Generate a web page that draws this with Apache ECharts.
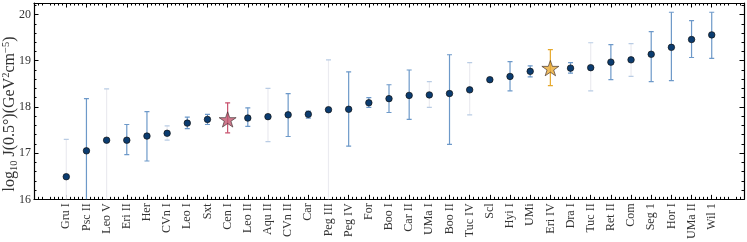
<!DOCTYPE html>
<html><head><meta charset="utf-8">
<script src="https://cdn.jsdelivr.net/npm/echarts@6/dist/echarts.min.js"></script>
<style>html,body{margin:0;padding:0;background:#fff}#c{width:747px;height:242px}</style>
</head><body><div id="c"></div>
<script>
const categories = ['Gru I','Psc II','Leo V','Eri II','Her','CVn I','Leo I','Sxt','Cen I','Leo II','Aqu II','CVn II','Car','Peg III','Peg IV','For','Boo I','Car II','UMa I','Boo II','Tuc IV','Scl','Hyi I','UMi','Eri IV','Dra I','Tuc II','Ret II','Com','Seg 1','Hor I','UMa II','Wil 1'];
const jValues = [16.49,17.05,17.28,17.28,17.37,17.43,17.65,17.73,17.73,17.76,17.79,17.83,17.84,17.94,17.95,18.09,18.18,18.25,18.26,18.29,18.37,18.59,18.66,18.77,18.84,18.84,18.85,18.97,19.02,19.14,19.29,19.46,19.56];
const jUpper = [17.30,18.18,18.39,17.62,17.90,17.59,17.78,17.84,18.09,17.98,18.40,18.29,17.91,19.02,18.76,18.20,18.48,18.80,18.55,19.13,18.96,18.62,18.98,18.89,19.24,18.96,19.39,19.35,19.37,19.63,20.05,19.87,20.05];
const jLower = [15.0,15.0,15.0,16.97,16.83,17.28,17.53,17.62,17.44,17.58,17.25,17.36,17.76,15.0,17.15,17.99,17.88,17.73,17.99,17.19,17.83,18.56,18.35,18.65,18.46,18.73,18.35,18.59,18.66,18.55,18.57,19.07,19.05];
const faint = [1,0,1,0,0,1,0,0,0,0,1,0,0,1,0,0,0,0,1,0,1,0,0,0,0,0,1,0,1,0,0,0,0];
const highlight = {8: {fill:'#c25870', err:'#c8506c'}, 24: {fill:'#e9aa36', err:'#e6a92c'}};
const yTicks = [16,17,18,19,20];

const FONT = 'Liberation Serif';
const majorX = categories.map((c,i)=>i);
const minorX = [];
for (let k=-7;k<=167;k++){ if (k%5!==0) minorX.push(+(k*0.2).toFixed(1)); }
const minorY = [];
for (let k=80;k<=101;k++){ if (k%5!==0) minorY.push(+(k*0.2).toFixed(1)); }

const XMIN=-1.6, XMAX=33.6, YMIN=16, YMAX=20.25;

const errData = categories.map((c,i)=>[i, jLower[i], jUpper[i], faint[i], i]);
const dotData = [], starData = [];
categories.forEach((c,i)=>{
  if (highlight[i]) starData.push({value:[i,jValues[i]], itemStyle:{color:highlight[i].fill, borderColor:'#3a2a2a', borderWidth:0.8}});
  else dotData.push([i,jValues[i]]);
});

function xAx(pos, vals, len, showLine, labels){
  return {type:'value', min:XMIN, max:XMAX, position:pos, gridIndex:0,
    axisLine:{show:showLine, onZero:false, lineStyle:{color:'#000', width:1.2}},
    splitLine:{show:false},
    axisTick:{show:true, inside:true, length:len, customValues:vals, lineStyle:{color:'#000', width:1}},
    axisLabel: labels ? {show:true, customValues:majorX, formatter:v=>categories[Math.round(v)]||'', rotate:90, fontFamily:FONT, fontSize:12, color:'#333', margin:4} : {show:false}
  };
}
function yAx(pos, vals, len, showLine, labels){
  return {type:'value', min:YMIN, max:YMAX, position:pos, gridIndex:0,
    axisLine:{show:showLine, onZero:false, lineStyle:{color:'#000', width:1.2}},
    splitLine:{show:false},
    axisTick:{show:true, inside:true, length:len, customValues:vals, lineStyle:{color:'#000', width:1}},
    axisLabel: labels ? {show:true, customValues:yTicks, fontFamily:FONT, fontSize:12, color:'#333', margin:3} : {show:false}
  };
}

const chart = echarts.init(document.getElementById('c'), null, {renderer:'canvas'});
chart.setOption({
  animation:false,
  grid:{left:34, right:3, top:3, bottom:42.5, containLabel:false},
  xAxis:[xAx('bottom',majorX,4.5,true,true), xAx('bottom',minorX,2.5,false,false), xAx('top',majorX,4.5,true,false), xAx('top',minorX,2.5,false,false)],
  yAxis:[yAx('left',yTicks,4.5,true,true), yAx('left',minorY,2.5,false,false), yAx('right',yTicks,4.5,true,false), yAx('right',minorY,2.5,false,false)],
  graphic:[{type:'text', x:10, y:114, rotation:Math.PI/2, style:{
    text:'{n|log}{s|10}{n| J(0.5°)(GeV}{p|2}{n|cm}{p|−5}{n|)}',
    rich:{n:{fontFamily:FONT, fontSize:16, lineHeight:19, fill:'#333'}, s:{fontFamily:FONT, fontSize:10.5, lineHeight:10, verticalAlign:'bottom', fill:'#333'}, p:{fontFamily:FONT, fontSize:10.5, lineHeight:10, verticalAlign:'top', fill:'#333'}},
    align:'center', verticalAlign:'middle'}}],
  series:[
    {type:'custom', xAxisIndex:0, yAxisIndex:0, clip:true, data:errData, z:2,
     renderItem:function(params, api){
       const i = api.value(4);
       const x = api.value(0);
       const lo = api.coord([x, api.value(1)]);
       const hi = api.coord([x, api.value(2)]);
       const isFaint = api.value(3) === 1;
       let lc = isFaint ? '#ebebf0' : '#6d99c9';
       let cc = isFaint ? '#b9cce4' : '#6d99c9';
       if (highlight[i]) { lc = highlight[i].err; cc = highlight[i].err; }
       const w = 2.5;
       const st = {stroke:lc, lineWidth:1.2};
       return {type:'group', children:[
         {type:'line', shape:{x1:hi[0], y1:hi[1], x2:lo[0], y2:lo[1]}, style:st},
         {type:'line', shape:{x1:hi[0]-w, y1:hi[1], x2:hi[0]+w, y2:hi[1]}, style:{stroke:cc, lineWidth:1.2}},
         {type:'line', shape:{x1:lo[0]-w, y1:lo[1], x2:lo[0]+w, y2:lo[1]}, style:{stroke:cc, lineWidth:1.2}}
       ]};
     }},
    {type:'scatter', xAxisIndex:0, yAxisIndex:0, data:dotData, symbol:'circle', symbolSize:6.5, z:3,
     itemStyle:{color:'#0b3c70', borderColor:'#111', borderWidth:0.7, opacity:1}},
    {type:'scatter', xAxisIndex:0, yAxisIndex:0, data:starData, z:4, symbolKeepAspect:true,
     symbol:'path://M50,0 L61.8,35.3 L98.1,35.3 L68.8,57.1 L79.4,91.9 L50,70.5 L20.6,91.9 L31.2,57.1 L1.9,35.3 L38.2,35.3 Z', symbolSize:[17,16]}
  ]
});
</script></body></html>
